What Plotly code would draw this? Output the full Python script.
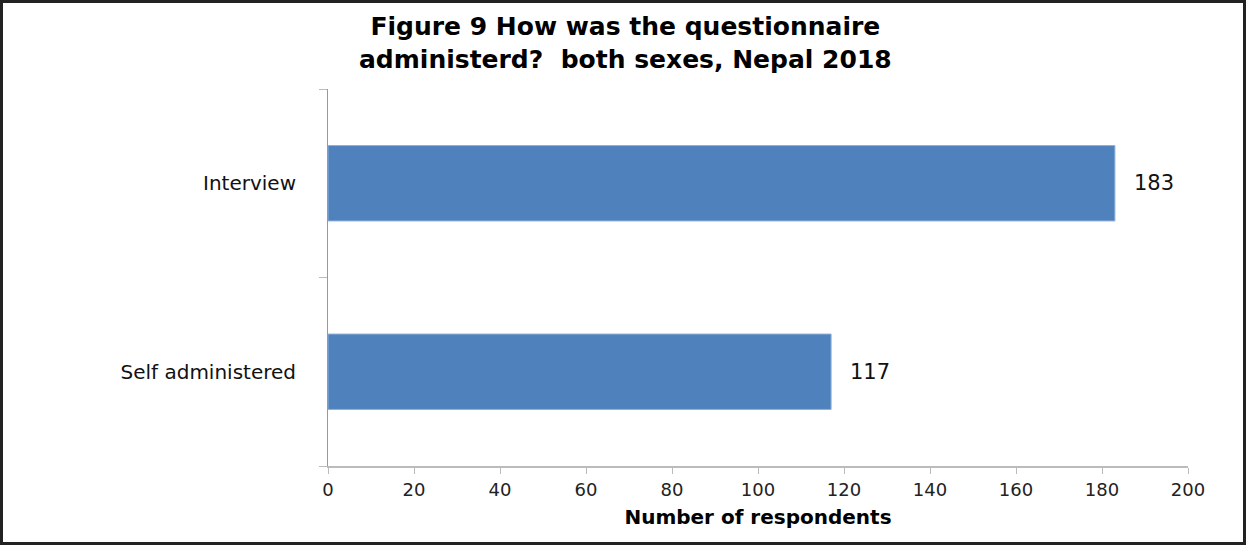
import plotly.graph_objects as go

categories = ["Self administered", "Interview"]
values = [117, 183]
x_ticks = [0, 20, 40, 60, 80, 100, 120, 140, 160, 180, 200]
title_lines = ["Figure 9 How was the questionnaire", "administerd?  both sexes, Nepal 2018"]

W, H = 1246, 545
L, R, T, B = 328, 58, 89, 79
pw, ph = W - L - R, H - T - B

fig = go.Figure(go.Bar(
    y=categories, x=values, orientation="h",
    marker=dict(color="#4F81BD", line=dict(color="#8FB0D8", width=1)),
    width=0.4,
))

for c, v in zip(categories, values):
    fig.add_annotation(x=v, y=c, text=str(v), showarrow=False, xanchor="left",
                       xshift=17, font=dict(family="DejaVu Sans", size=21, color="#111"))

fig.add_annotation(xref="paper", yref="paper", x=(625 - L) / pw,
                   y=1 + (T - 43) / ph, yanchor="middle", xanchor="center",
                   text="<b>" + "<br>".join(title_lines) + "</b>", showarrow=False,
                   font=dict(family="DejaVu Sans", size=25, color="#000"))

fig.update_layout(
    width=W, height=H,
    margin=dict(l=L, r=R, t=T, b=B),
    plot_bgcolor="white", paper_bgcolor="white",
    showlegend=False,
    xaxis=dict(range=[0, 200], tickvals=x_ticks, showgrid=False, zeroline=False,
               showline=True, linecolor="#BBBBBB", linewidth=2,
               ticks="outside", ticklen=6, tickcolor="#BBBBBB",
               tickfont=dict(family="DejaVu Sans", size=18, color="#222"),
               title=dict(text="<b>Number of respondents</b>", standoff=11,
                          font=dict(family="DejaVu Sans", size=20, color="#000"))),
    yaxis=dict(showgrid=False, zeroline=False, showline=True, linecolor="#999999", linewidth=1,
               ticks="outside", ticklen=8, tickcolor="#BBBBBB", tickson="boundaries",
               ticklabelstandoff=27,
               tickfont=dict(family="DejaVu Sans", size=20, color="#111"),
               categoryorder="array", categoryarray=categories),
)

fig.add_shape(type="rect", xref="paper", yref="paper",
              x0=-L / pw + 1.5 / pw, x1=1 + R / pw - 1.5 / pw,
              y0=-B / ph + 1.5 / ph, y1=1 + T / ph - 1.5 / ph,
              line=dict(color="#222", width=3), layer="above")

fig.write_html("out.html")
